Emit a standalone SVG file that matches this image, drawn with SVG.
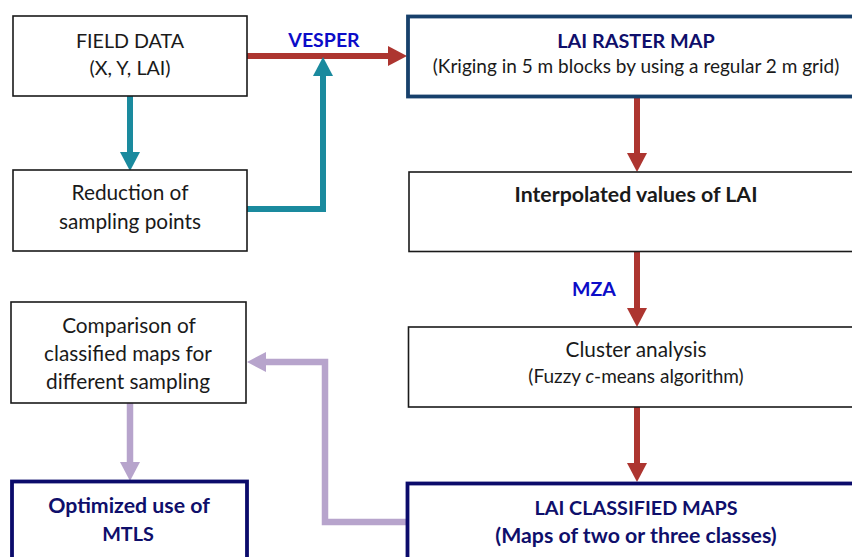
<svg xmlns="http://www.w3.org/2000/svg" width="852" height="557" viewBox="0 0 852 557">
<style>
text{font-family:Lato,"Liberation Sans",sans-serif;text-anchor:middle;fill:#1a1a1a}
.t{font-size:20.8px}
.tc{font-size:19.7px}
.s{font-size:19px}
.b{font-weight:bold;font-size:21.3px}
.bc{font-weight:bold;font-size:19.8px}
.navy{fill:#0f0f6b}
.blue{fill:#0c0cc8;font-weight:bold;font-size:19.5px}
.box{fill:#fff;stroke:#1a1a1a;stroke-width:1.6}
.boxr{fill:#fff;stroke:#17406b;stroke-width:3.8}
.boxn{fill:#fff;stroke:#0b0b6b;stroke-width:3.8}
.red{fill:none;stroke:#ad3530;stroke-width:6}
.teal{fill:none;stroke:#1a8a9e;stroke-width:6}
.lil{fill:none;stroke:#b7a4cc;stroke-width:6.5}
</style>
<defs>
<marker id="hr" markerUnits="userSpaceOnUse" viewBox="0 0 20 20" refX="0" refY="10" markerWidth="20" markerHeight="20" orient="auto"><path d="M0,0 L19,10 L0,20 Z" fill="#ad3530"/></marker>
<marker id="ht" markerUnits="userSpaceOnUse" viewBox="0 0 20 20" refX="0" refY="10" markerWidth="20" markerHeight="20" orient="auto"><path d="M0,0 L19,10 L0,20 Z" fill="#1a8a9e"/></marker>
<marker id="hl" markerUnits="userSpaceOnUse" viewBox="0 0 20 20" refX="0" refY="10" markerWidth="20" markerHeight="20" orient="auto"><path d="M0,0 L19,10 L0,20 Z" fill="#b7a4cc"/></marker>
</defs>
<rect width="852" height="557" fill="#fff"/>

<g id="connectors">
<path class="red" d="M247,56 H388" marker-end="url(#hr)"/>
<path class="teal" d="M130,96 V152" marker-end="url(#ht)"/>
<path class="teal" d="M244,209 H323 V76" marker-end="url(#ht)"/>
<path class="red" d="M637,98 V153" marker-end="url(#hr)"/>
<path class="red" d="M637,252 V308" marker-end="url(#hr)"/>
<path class="red" d="M637,407 V463" marker-end="url(#hr)"/>
<path class="lil" d="M130,403 V462" marker-end="url(#hl)"/>
<path class="lil" d="M407,522 H325 V362 H266" marker-end="url(#hl)"/>
<text class="blue" x="324" y="47">VESPER</text>
<text class="blue" x="594" y="296">MZA</text>
</g>

<g id="field-data">
<rect class="box" x="13" y="16" width="234" height="80"/>
<text class="tc" x="130" y="48">FIELD DATA</text>
<text class="tc" x="130" y="75">(X, Y, LAI)</text>
</g>

<g id="reduction">
<rect class="box" x="13" y="170" width="234" height="81"/>
<text class="t" x="130" y="200">Reduction of</text>
<text class="t" x="130" y="229">sampling points</text>
</g>

<g id="lai-raster-map">
<rect class="boxr" x="408" y="16.5" width="460" height="80"/>
<text class="bc navy" x="636" y="48">LAI RASTER MAP</text>
<text class="s" x="636" y="73">(Kriging in 5 m blocks by using a regular 2 m grid)</text>
</g>

<g id="interpolated">
<rect class="box" x="409" y="172" width="460" height="79.5"/>
<text class="b" x="636" y="202">Interpolated values of LAI</text>
</g>

<g id="cluster">
<rect class="box" x="408.5" y="327" width="460" height="80"/>
<text class="t" x="636" y="357">Cluster analysis</text>
<text class="s" x="636" y="383">(Fuzzy <tspan font-style="italic">c</tspan>-means algorithm)</text>
</g>

<g id="lai-classified">
<rect class="boxn" x="407.5" y="483.5" width="460" height="90"/>
<text class="bc navy" x="636" y="515">LAI CLASSIFIED MAPS</text>
<text class="b navy" x="636" y="543">(Maps of two or three classes)</text>
</g>

<g id="comparison">
<rect class="box" x="11" y="302" width="235" height="101"/>
<text class="t" x="129" y="333">Comparison of</text>
<text class="t" x="128" y="361">classified maps for</text>
<text class="t" x="128" y="389">different sampling</text>
</g>

<g id="optimized">
<rect class="boxn" x="12" y="481.5" width="235" height="90"/>
<text class="b navy" x="129" y="513">Optimized use of</text>
<text class="bc navy" x="128" y="541">MTLS</text>
</g>
</svg>
